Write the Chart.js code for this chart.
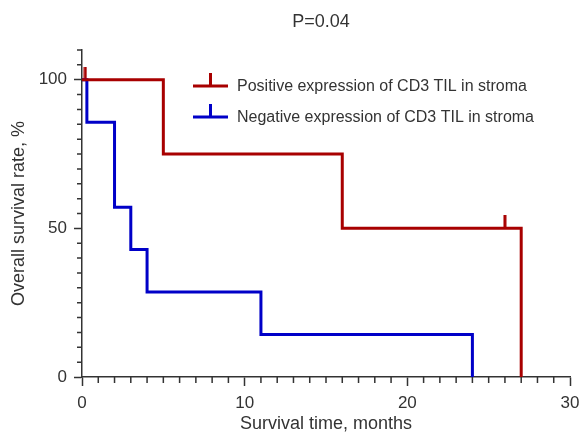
<!DOCTYPE html>
<html lang="en">
<head>
  <meta charset="utf-8">
  <title>Overall survival by CD3 TIL in stroma</title>
  <script src="https://cdn.jsdelivr.net/npm/chart.js"></script>
  <style>
    html, body { margin: 0; padding: 0; background: #fff; }
    #wrap { width: 584px; height: 437px; position: relative; }
  </style>
</head>
<body>
  <div id="wrap">
    <canvas id="kmChart"></canvas>
  </div>
  <script>
    // Kaplan-Meier steps
    const posTimes = [0, 5, 16, 27];
    const posSurvival = [100, 75, 50, 0];
    const posCensorTimes = [0.2, 26];
    const posCensorSurvival = [100, 50];

    const negTimes = [0, 0.3, 2, 3, 4, 11, 24];
    const negSurvival = [100, 85.7, 57.1, 42.9, 28.6, 14.3, 0];

    const seriesLabels = [
      'Positive expression of CD3 TIL in stroma',
      'Negative expression of CD3 TIL in stroma'
    ];
    const seriesColors = ['#a80000', '#0000c8'];
    const titleText = 'P=0.04';
    const xTitle = 'Survival time, months';
    const yTitle = 'Overall survival rate, %';

    const axisColor = '#333';
    const textColor = '#333';
    const fontFamily = '"Liberation Sans", Arial, Helvetica, sans-serif';

    const toPoints = (xs, ys) => xs.map((x, i) => ({ x: x, y: ys[i] }));

    // censor mark: short vertical tick pointing up from the curve
    function censorMark(color) {
      const c = document.createElement('canvas');
      c.width = 4; c.height = 26;
      const g = c.getContext('2d');
      g.strokeStyle = color;
      g.lineWidth = 3;
      g.beginPath();
      g.moveTo(2, 0);
      g.lineTo(2, 13);
      g.stroke();
      return c;
    }

    // minor ticks, title and legend drawn on top
    const extras = {
      id: 'extras',
      afterDraw(chart) {
        const ctx = chart.ctx;
        const xs = chart.scales.x, ys = chart.scales.y;
        const area = chart.chartArea;
        ctx.save();
        ctx.strokeStyle = axisColor;
        ctx.lineWidth = 1.5;
        ctx.beginPath();
        for (let v = 1; v < 30; v++) {
          if (v % 10 === 0) continue;
          const px = xs.getPixelForValue(v);
          ctx.moveTo(px, area.bottom);
          ctx.lineTo(px, area.bottom + 6);
        }
        for (let v = 5; v <= 110; v += 5) {
          if (v % 50 === 0) continue;
          const py = ys.getPixelForValue(v);
          ctx.moveTo(area.left - 5, py);
          ctx.lineTo(area.left, py);
        }
        ctx.stroke();

        // title
        ctx.fillStyle = textColor;
        ctx.font = '18px ' + fontFamily;
        ctx.textAlign = 'center';
        ctx.textBaseline = 'middle';
        ctx.fillText(titleText, (area.left + area.right) / 2 - 5, 22);

        // legend
        const lx = 193, lw = 35, ly0 = 86, gap = 31;
        ctx.font = '16px ' + fontFamily;
        ctx.textAlign = 'left';
        seriesLabels.forEach((label, i) => {
          const ly = ly0 + i * gap;
          ctx.strokeStyle = seriesColors[i];
          ctx.lineWidth = 3;
          ctx.beginPath();
          ctx.moveTo(lx, ly);
          ctx.lineTo(lx + lw, ly);
          ctx.moveTo(lx + lw / 2, ly);
          ctx.lineTo(lx + lw / 2, ly - 13);
          ctx.stroke();
          ctx.fillStyle = textColor;
          ctx.fillText(label, lx + lw + 9, ly + 1);
        });
        ctx.restore();
      }
    };

    new Chart(document.getElementById('kmChart'), {
      type: 'line',
      data: {
        datasets: [
          {
            label: seriesLabels[0],
            data: toPoints(posTimes, posSurvival),
            borderColor: seriesColors[0],
            borderWidth: 3,
            stepped: true,
            pointRadius: 0,
            fill: false
          },
          {
            label: seriesLabels[1],
            data: toPoints(negTimes, negSurvival),
            borderColor: seriesColors[1],
            borderWidth: 3,
            stepped: true,
            pointRadius: 0,
            fill: false
          },
          {
            label: 'censored',
            data: toPoints(posCensorTimes, posCensorSurvival),
            showLine: false,
            pointStyle: censorMark(seriesColors[0]),
            pointRadius: 13,
            pointHoverRadius: 13
          }
        ]
      },
      options: {
        responsive: true,
        maintainAspectRatio: false,
        animation: false,
        layout: { padding: { top: 50, right: 12, left: 0, bottom: 0 } },
        plugins: {
          legend: { display: false },
          tooltip: { enabled: false }
        },
        scales: {
          x: {
            type: 'linear',
            min: 0,
            max: 30,
            afterFit(scale) {
              scale.height = 60;
              scale.paddingLeft = 0;
              scale.paddingRight = 0;
            },
            ticks: {
              stepSize: 10,
              color: textColor,
              padding: 7,
              font: { family: fontFamily, size: 17 }
            },
            grid: { drawOnChartArea: false, tickLength: 9, tickColor: axisColor, tickWidth: 1.5 },
            border: { color: axisColor, width: 1.5 },
            title: {
              display: true,
              text: xTitle,
              color: textColor,
              font: { family: fontFamily, size: 18 },
              padding: { top: 0, bottom: 2 }
            }
          },
          y: {
            type: 'linear',
            min: 0,
            max: 110,
            afterFit(scale) {
              scale.width = 82;
              scale.paddingTop = 0;
              scale.paddingBottom = 0;
            },
            ticks: {
              stepSize: 50,
              includeBounds: false,
              color: textColor,
              padding: 7,
              font: { family: fontFamily, size: 17 }
            },
            grid: { drawOnChartArea: false, tickLength: 8, tickColor: axisColor, tickWidth: 1.5 },
            border: { color: axisColor, width: 1.5 },
            title: {
              display: true,
              text: yTitle,
              color: textColor,
              font: { family: fontFamily, size: 18 },
              padding: { top: 8, bottom: 0 }
            }
          }
        }
      },
      plugins: [extras]
    });
  </script>
</body>
</html>
